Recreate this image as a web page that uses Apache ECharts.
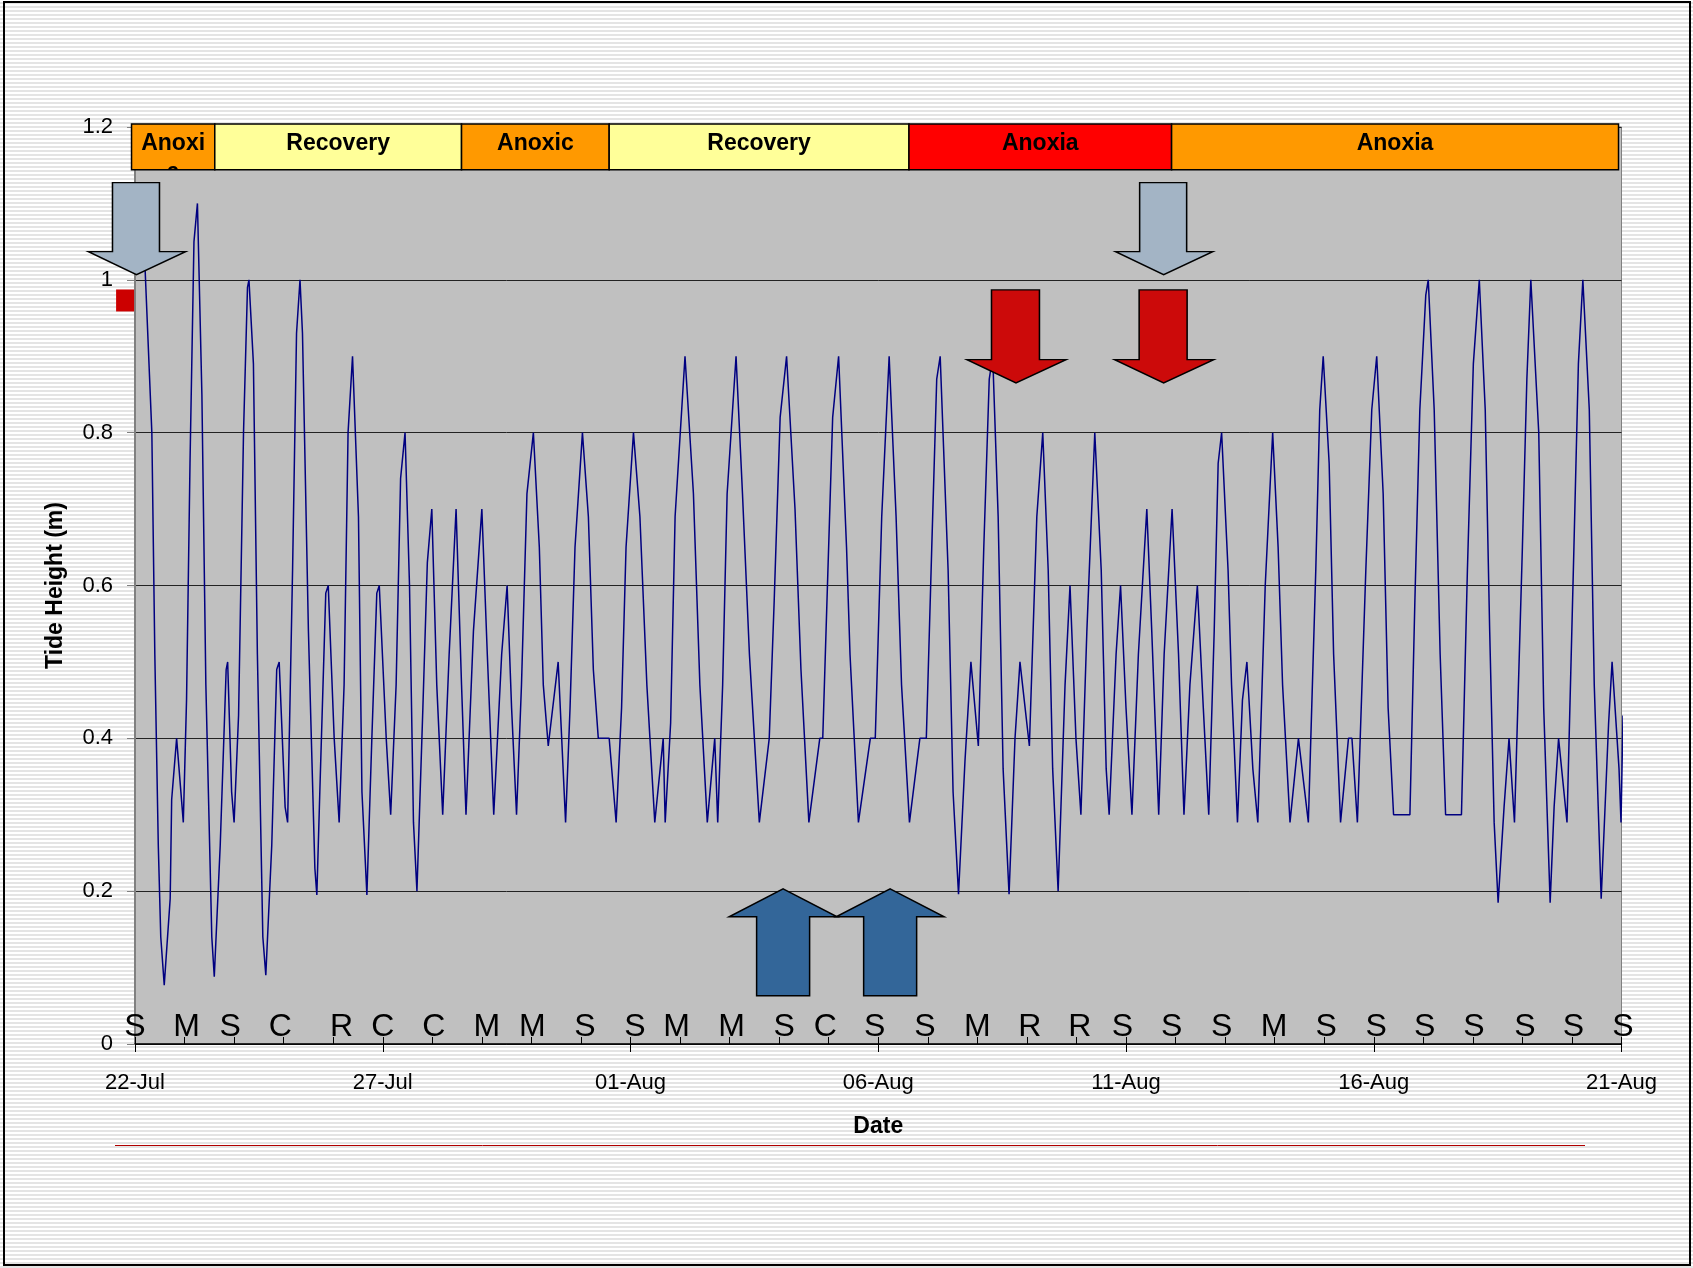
<!DOCTYPE html>
<html><head><meta charset="utf-8">
<script src="https://cdn.jsdelivr.net/npm/echarts@6/dist/echarts.min.js"></script>
<style>html,body{margin:0;padding:0;background:#fff}#c{width:1693px;height:1268px}</style>
</head><body><div id="c"></div>
<script>
// ---------------- data ----------------
const dateTickLabels = ['22-Jul','27-Jul','01-Aug','06-Aug','11-Aug','16-Aug','21-Aug'];
// time in days after 22-Jul 00:00, and tide height (m)
const tideDays = [0.20,0.34,0.40,0.47,0.52,0.59,0.71,0.74,0.84,0.975,1.04,1.11,1.19,1.26,1.35,1.43,1.55,1.60,1.72,1.84,1.87,1.95,2.00,2.09,2.19,2.27,2.30,2.39,2.47,2.58,2.64,2.76,2.86,2.91,3.03,3.08,3.18,3.26,3.33,3.38,3.50,3.63,3.67,3.73,3.85,3.90,4.02,4.12,4.22,4.30,4.39,4.51,4.58,4.68,4.78,4.88,4.93,5.07,5.16,5.27,5.36,5.45,5.54,5.62,5.69,5.81,5.90,5.99,6.09,6.21,6.34,6.48,6.59,6.68,6.83,7.00,7.11,7.24,7.40,7.51,7.60,7.70,7.80,7.91,8.04,8.16,8.24,8.34,8.54,8.69,8.78,8.88,9.03,9.15,9.25,9.35,9.57,9.71,9.82,9.91,10.06,10.19,10.33,10.49,10.66,10.70,10.81,10.90,11.10,11.27,11.40,11.55,11.70,11.76,11.86,11.95,12.13,12.26,12.40,12.60,12.80,12.90,13.02,13.15,13.32,13.44,13.60,13.82,13.88,13.97,14.08,14.20,14.36,14.43,14.60,14.84,14.94,15.07,15.22,15.36,15.47,15.63,15.84,15.97,16.08,16.18,16.25,16.41,16.51,16.62,16.75,16.87,17.02,17.13,17.24,17.31,17.42,17.52,17.64,17.76,17.86,18.05,18.20,18.32,18.43,18.52,18.63,18.77,18.87,18.99,19.09,19.21,19.37,19.50,19.60,19.66,19.80,19.89,20.00,20.12,20.25,20.42,20.52,20.66,20.77,20.93,21.06,21.17,21.29,21.44,21.56,21.67,21.78,21.86,21.93,22.06,22.13,22.25,22.35,22.44,22.56,22.66,22.81,22.96,23.07,23.16,23.31,23.48,23.68,23.83,23.91,23.98,24.10,24.19,24.33,24.49,24.56,24.67,24.84,24.96,25.06,25.19,25.29,25.40,25.73,25.83,25.93,26.05,26.10,26.22,26.34,26.45,26.77,26.89,27.01,27.13,27.25,27.34,27.43,27.51,27.63,27.73,27.84,28.00,28.09,28.17,28.33,28.43,28.56,28.64,28.73,28.90,29.04,29.13,29.22,29.35,29.45,29.59,29.74,29.81,29.95,29.99,30.03];
const tideHeights = [1.02,0.80,0.51,0.26,0.14,0.077,0.19,0.32,0.40,0.29,0.45,0.76,1.05,1.10,0.85,0.47,0.14,0.088,0.26,0.49,0.50,0.33,0.29,0.43,0.80,0.99,1.00,0.89,0.51,0.14,0.09,0.26,0.49,0.50,0.31,0.29,0.62,0.93,1.00,0.93,0.54,0.23,0.195,0.33,0.59,0.60,0.40,0.29,0.47,0.80,0.90,0.69,0.33,0.195,0.40,0.59,0.60,0.40,0.30,0.47,0.74,0.80,0.60,0.29,0.20,0.44,0.63,0.70,0.47,0.30,0.51,0.70,0.47,0.30,0.54,0.70,0.51,0.30,0.51,0.60,0.44,0.30,0.47,0.72,0.80,0.65,0.47,0.39,0.50,0.29,0.44,0.65,0.80,0.69,0.49,0.40,0.40,0.29,0.44,0.65,0.80,0.69,0.47,0.29,0.40,0.29,0.42,0.69,0.90,0.72,0.47,0.29,0.40,0.29,0.47,0.72,0.90,0.72,0.51,0.29,0.40,0.58,0.82,0.90,0.70,0.49,0.29,0.40,0.40,0.59,0.82,0.90,0.65,0.51,0.29,0.40,0.40,0.69,0.90,0.69,0.47,0.29,0.40,0.40,0.65,0.87,0.90,0.62,0.33,0.196,0.37,0.50,0.39,0.65,0.87,0.90,0.69,0.36,0.196,0.40,0.50,0.39,0.69,0.80,0.62,0.36,0.20,0.47,0.60,0.40,0.30,0.54,0.80,0.62,0.36,0.30,0.51,0.60,0.44,0.30,0.51,0.70,0.54,0.30,0.51,0.70,0.51,0.30,0.47,0.60,0.44,0.30,0.54,0.76,0.80,0.62,0.47,0.29,0.45,0.50,0.36,0.29,0.60,0.80,0.65,0.47,0.29,0.40,0.29,0.62,0.83,0.90,0.76,0.51,0.29,0.40,0.40,0.29,0.62,0.83,0.90,0.72,0.44,0.30,0.30,0.58,0.83,0.98,1.00,0.83,0.51,0.30,0.30,0.62,0.89,1.00,0.83,0.54,0.29,0.185,0.31,0.40,0.29,0.65,0.87,1.00,0.80,0.44,0.185,0.31,0.40,0.29,0.65,0.89,1.00,0.83,0.47,0.19,0.42,0.50,0.36,0.29,0.43];
// daily letter annotations along the bottom
const dayLetters = ['S','M','S','C','R','C','C','M','M','S','S','M','M','S','C','S','S','M','R','R','S','S','S','M','S','S','S','S','S','S','S'];
const dayLetterDays = [0,1.04,1.92,2.93,4.17,5.0,6.03,7.1,8.02,9.08,10.09,10.93,12.04,13.1,13.93,14.93,15.94,17.0,18.06,19.07,19.93,20.92,21.93,22.99,24.04,25.05,26.03,27.02,28.05,29.03,30.03];
// condition bands across the top
const bandStart = [-0.07,1.61,6.59,9.57,15.62,20.92];
const bandEnd   = [1.61,6.59,9.57,15.62,20.92,29.94];
const bandLabels = ['Anoxia','Recovery','Anoxic','Recovery','Anoxia','Anoxia'];
const bandKinds  = ['anoxic','recovery','anoxic','recovery','severe','anoxic'];
const bandTopValue = 1.204, bandBottomValue = 1.144;
// arrow annotations [day, height]
const greyDownArrows = [[0.04,1.067],[20.77,1.067]];
const redDownArrows  = [[17.79,0.926],[20.77,0.926]];
const blueUpArrows   = [[13.08,0.133],[15.24,0.133]];
const redMarker = [[-0.2,0.973]];

// ---------------- styles ----------------
const FONT = '"Liberation Sans", Arial, Helvetica, sans-serif';
const bandColors = {anoxic:'#FF9900', recovery:'#FFFF99', severe:'#FF0000'};
const downPath = 'path://M24,0 L71,0 L71,69 L97,69 L48,92 L0,69 L24,69 Z';
const upPath = 'path://M54,0 L108,28 L80.5,28 L80.5,107 L27.5,107 L27.5,28 L0,28 Z';

const pat = document.createElement('canvas');
pat.width = 4; pat.height = 4;
const pctx = pat.getContext('2d');
pctx.fillStyle = '#ffffff'; pctx.fillRect(0,0,4,4);
pctx.fillStyle = '#e4e4e4'; pctx.fillRect(0,2,4,2);

const chart = echarts.init(document.getElementById('c'), null, {renderer:'canvas'});

const option = {
  animation: false,
  backgroundColor: {image: pat, repeat: 'repeat'},
  textStyle: {fontFamily: FONT},
  grid: {left: 135, right: 71.5, top: 127, bottom: 224, show: true, backgroundColor: '#C0C0C0', borderColor: '#808080', borderWidth: 1},
  xAxis: [{
    type: 'value', min: 0, max: 30, interval: 5, position: 'bottom',
    axisLine: {show: true, onZero: false, lineStyle: {color: '#000', width: 1.5}},
    axisTick: {show: true, inside: false, length: 8, lineStyle: {color: '#000'}},
    axisLabel: {margin: 28, fontSize: 22, color: '#000', fontFamily: FONT,
      formatter: v => dateTickLabels[Math.round(v / 5)]},
    splitLine: {show: false},
    name: 'Date', nameLocation: 'middle', nameGap: 71,
    nameTextStyle: {fontSize: 23, fontWeight: 'bold', color: '#000', fontFamily: FONT}
  }, {
    type: 'value', min: 0, max: 30, interval: 1, position: 'bottom',
    axisLine: {show: false}, axisLabel: {show: false}, splitLine: {show: false},
    axisTick: {show: true, inside: true, length: 7, lineStyle: {color: '#000'}}
  }],
  yAxis: {
    type: 'value', min: 0, max: 1.2, interval: 0.2,
    axisLine: {show: true, lineStyle: {color: '#808080', width: 2}},
    axisTick: {show: true, length: 8, lineStyle: {color: '#808080'}},
    axisLabel: {margin: 22, fontSize: 22, color: '#000', fontFamily: FONT},
    splitLine: {show: true, lineStyle: {color: '#222', width: 1}},
    name: 'Tide Height (m)', nameLocation: 'middle', nameGap: 68, nameRotate: 90,
    nameTextStyle: {fontSize: 23, fontWeight: 'bold', color: '#000', fontFamily: FONT}
  },
  graphic: [
    {type: 'rect', shape: {x: 4, y: 2, width: 1686, height: 1263}, style: {fill: 'none', stroke: '#000', lineWidth: 2}, silent: true},
    {type: 'line', shape: {x1: 115, y1: 1145.5, x2: 1585, y2: 1145.5}, style: {stroke: '#B00000', lineWidth: 1}, silent: true}
  ],
  series: [
    {
      type: 'line', xAxisIndex: 0, data: tideDays.map((d, i) => [d, tideHeights[i]]),
      showSymbol: false, symbol: 'none', clip: false,
      lineStyle: {color: '#000080', width: 1.5}, z: 3
    },
    {
      type: 'custom', xAxisIndex: 0, clip: false, z: 6, silent: true,
      data: bandStart.map((s, i) => [s, bandEnd[i], i]),
      renderItem: function (params, api) {
        const i = api.value(2);
        const p0 = api.coord([api.value(0), bandTopValue]);
        const p1 = api.coord([api.value(1), bandBottomValue]);
        const w = p1[0] - p0[0], h = p1[1] - p0[1];
        return {type: 'group', children: [
          {type: 'rect', shape: {x: p0[0], y: p0[1], width: w, height: h},
           style: {fill: bandColors[bandKinds[i]], stroke: '#000', lineWidth: 1.5}},
          {type: 'group', clipPath: {type: 'rect', shape: {x: p0[0], y: p0[1], width: w, height: h}},
           children: [{type: 'text', style: {text: bandLabels[i], x: p0[0] + w / 2, y: p0[1] + 5,
             align: 'center', verticalAlign: 'top', width: w - 14, overflow: 'breakAll', lineHeight: 29,
             font: 'bold 23px ' + FONT, fill: '#000'}}]}
        ]};
      }
    },
    {
      type: 'scatter', xAxisIndex: 0, clip: false, silent: true, z: 7,
      data: dayLetterDays.map((d, i) => ({value: [d, 0], label: {formatter: dayLetters[i]}})),
      symbolSize: 1, itemStyle: {color: 'rgba(0,0,0,0)', opacity: 1},
      label: {show: true, position: 'top', distance: 0, fontSize: 32, lineHeight: 32, color: '#000', fontFamily: FONT}
    },
    {
      type: 'scatter', xAxisIndex: 0, clip: false, silent: true, z: 8,
      data: greyDownArrows, symbol: downPath, symbolSize: [97, 92],
      itemStyle: {color: '#A3B4C5', borderColor: '#000', borderWidth: 1.5, opacity: 1}
    },
    {
      type: 'scatter', xAxisIndex: 0, clip: false, silent: true, z: 8,
      data: redDownArrows, symbol: downPath, symbolSize: [99, 93],
      itemStyle: {color: '#CC0A0A', borderColor: '#000', borderWidth: 1.5, opacity: 1}
    },
    {
      type: 'scatter', xAxisIndex: 0, clip: false, silent: true, z: 8,
      data: blueUpArrows, symbol: upPath, symbolSize: [108, 107],
      itemStyle: {color: '#336699', borderColor: '#000', borderWidth: 1.5, opacity: 1}
    },
    {
      type: 'scatter', xAxisIndex: 0, clip: false, silent: true, z: 8,
      data: redMarker, symbol: 'rect', symbolSize: [18, 22],
      itemStyle: {color: '#CC0000', opacity: 1}
    }
  ]
};
chart.setOption(option);
</script></body></html>
